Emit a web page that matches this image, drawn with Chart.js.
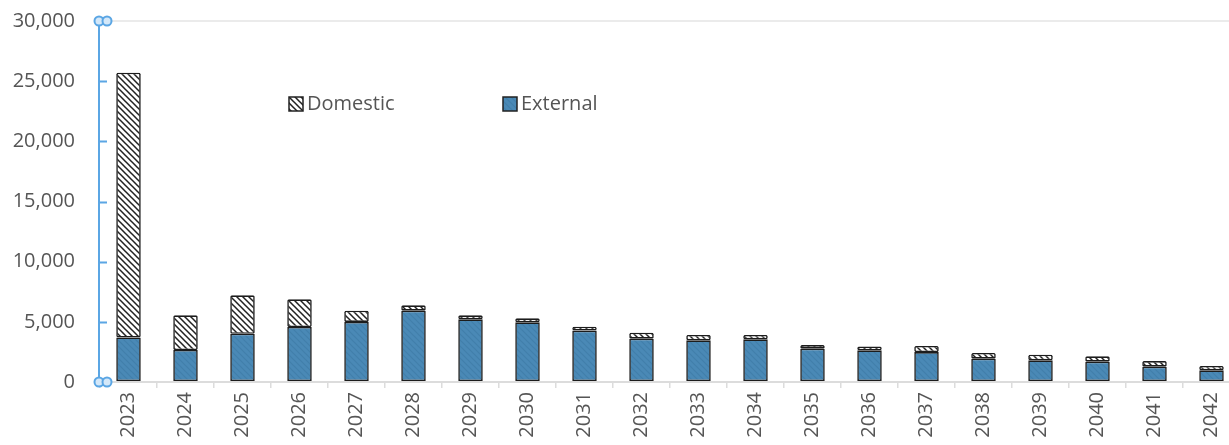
<!DOCTYPE html>
<html>
<head>
<meta charset="utf-8">
<script src="https://cdn.jsdelivr.net/npm/chart.js@4"></script>
<style>
  html, body { margin: 0; padding: 0; background: #fff; overflow: hidden; }
  #wrap { position: relative; width: 1240px; height: 445px; }
</style>
</head>
<body>
<div id="wrap"><canvas id="c"></canvas></div>
<script>
const years = ['2023','2024','2025','2026','2027','2028','2029','2030','2031','2032','2033','2034','2035','2036','2037','2038','2039','2040','2041','2042'];
const external = [3700,2660,4010,4570,4990,5930,5210,4960,4270,3600,3460,3550,2770,2630,2490,1940,1800,1690,1270,970];
const domestic = [22000,2880,3190,2300,940,440,330,330,330,500,450,360,300,330,500,470,470,440,470,360];
const seriesNames = ['External', 'Domestic'];
const yMin = 0, yMax = 30000, yStep = 5000;

function makePattern(bg, fg, lw) {
  const s = 6;
  const c = document.createElement('canvas');
  c.width = s; c.height = s;
  const g = c.getContext('2d');
  g.fillStyle = bg; g.fillRect(0, 0, s, s);
  g.strokeStyle = fg; g.lineWidth = lw;
  g.beginPath();
  g.moveTo(-1, -1); g.lineTo(s + 1, s + 1);
  g.moveTo(-1, s - 1); g.lineTo(1, s + 1);
  g.moveTo(s - 1, -1); g.lineTo(s + 1, 1);
  g.stroke();
  return g.createPattern(c, 'repeat');
}
const ctx0 = document.getElementById('c').getContext('2d');
const hatchDom = makePattern('#ffffff', '#222222', 1.5);
const hatchExt = makePattern('#4a89b6', '#427fab', 1.2);

const AXIS_BLUE = '#5ba6e4';
const TEXT = '#555555';
const FONT = "'Open Sans', 'Noto Sans', sans-serif";

const axisDecor = {
  id: 'axisDecor',
  afterDraw(chart) {
    const y = chart.scales.y;
    const ctx = chart.ctx;
    const x0 = chart.chartArea.left - 1;
    ctx.save();
    ctx.strokeStyle = AXIS_BLUE;
    ctx.lineWidth = 2;
    ctx.beginPath();
    ctx.moveTo(x0, y.top); ctx.lineTo(x0, y.bottom);
    y.ticks.forEach(t => {
      if (t.value === yMin || t.value === yMax) return;
      const py = Math.round(y.getPixelForValue(t.value)) + 0.5;
      ctx.moveTo(x0, py); ctx.lineTo(x0 + 8, py);
    });
    ctx.stroke();
    [y.top, y.bottom].forEach(py => {
      [x0, x0 + 8].forEach(px => {
        ctx.beginPath();
        ctx.arc(px, py, 4.5, 0, Math.PI * 2);
        ctx.fillStyle = '#d4e8f9';
        ctx.fill();
        ctx.lineWidth = 2;
        ctx.strokeStyle = AXIS_BLUE;
        ctx.stroke();
      });
    });
    ctx.restore();
  }
};

const floatLegend = {
  id: 'floatLegend',
  afterDraw(chart, args, opts) {
    const ctx = chart.ctx;
    const ca = chart.chartArea;
    ctx.save();
    ctx.font = opts.fontSize + 'px ' + FONT;
    ctx.textBaseline = 'middle';
    opts.items.forEach(it => {
      const ds = chart.data.datasets.find(d => d.label === it.label);
      const x = ca.left + it.dx, yy = ca.top + opts.dy;
      ctx.fillStyle = ds.backgroundColor;
      ctx.fillRect(x, yy - 7, 14, 14);
      ctx.lineWidth = 1.5;
      ctx.strokeStyle = '#222';
      ctx.strokeRect(x, yy - 7, 14, 14);
      ctx.fillStyle = TEXT;
      ctx.fillText(ds.label, x + 18, yy);
    });
    ctx.restore();
  }
};

new Chart(ctx0, {
  type: 'bar',
  data: {
    labels: years,
    datasets: [
      { label: seriesNames[0], data: external, backgroundColor: hatchExt, borderColor: '#1c1c1c', borderWidth: 1.6, borderSkipped: false, borderRadius: 1.5 },
      { label: seriesNames[1], data: domestic, backgroundColor: hatchDom, borderColor: '#1c1c1c', borderWidth: 1.6, borderSkipped: false, borderRadius: 1.5 }
    ]
  },
  options: {
    responsive: true,
    maintainAspectRatio: false,
    animation: false,
    layout: { padding: { top: 21, left: 0, right: 0, bottom: 0 } },
    datasets: { bar: { categoryPercentage: 1.0, barPercentage: 0.43 } },
    plugins: {
      legend: { display: false },
      tooltip: { enabled: false },
      floatLegend: { dy: 83, fontSize: 20, items: [ { label: 'Domestic', dx: 189 }, { label: 'External', dx: 403 } ] }
    },
    scales: {
      x: {
        stacked: true,
        afterFit(s) { s.height = 63; s.paddingLeft = 0; s.paddingRight = 0; },
        grid: { display: true, drawOnChartArea: false, drawTicks: true, tickLength: 6, color: '#dcdcdc', lineWidth: 1.5 },
        border: { display: true, color: '#dcdcdc', width: 2 },
        ticks: { maxRotation: 90, minRotation: 90, padding: 4, color: TEXT, font: { family: FONT, size: 20 } }
      },
      y: {
        stacked: true,
        min: yMin, max: yMax,
        afterFit(s) { s.width = 100; s.paddingTop = 0; s.paddingBottom = 0; },
        grid: { drawTicks: false, color: c => (c.tick && c.tick.value === yMax) ? '#ebebeb' : 'rgba(0,0,0,0)', lineWidth: 2 },
        border: { display: false },
        ticks: { stepSize: yStep, padding: 25, color: TEXT, font: { family: FONT, size: 20 },
          callback: v => v.toLocaleString('en-US') }
      }
    }
  },
  plugins: [axisDecor, floatLegend]
});
</script>
</body>
</html>
